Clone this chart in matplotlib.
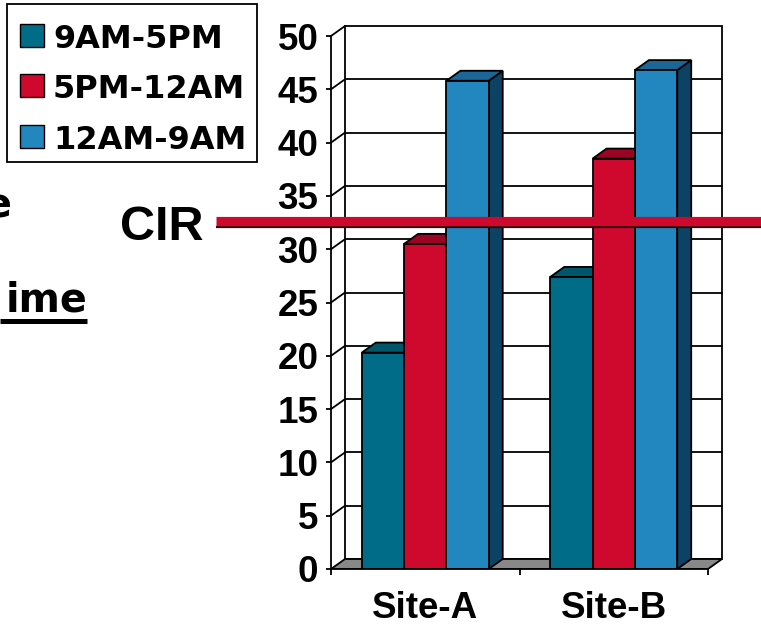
import matplotlib
matplotlib.use("Agg")
import matplotlib.pyplot as plt
from matplotlib.patches import Polygon, Rectangle
from matplotlib import transforms

# ---------------- data ----------------
categories = ["Site-A", "Site-B"]
series_names = ["9AM-5PM", "5PM-12AM", "12AM-9AM"]
vals_9am_5pm = [20.3, 27.4]
vals_5pm_12am = [30.5, 38.5]
vals_12am_9am = [45.8, 46.8]
series_values = [vals_9am_5pm, vals_5pm_12am, vals_12am_9am]
cir_value = 32.6
yticks = list(range(0, 51, 5))

# ---------------- styles ----------------
front_colors = ["#006C87", "#CF082D", "#2187BE"]
top_colors = ["#00566B", "#9C0425", "#1B6797"]
side_colors = ["#00465A", "#7E0320", "#0C4263"]
floor_color = "#888888"
bold_arial = dict(family="Liberation Sans", weight="bold")
bold_wide = dict(family="DejaVu Sans", weight="bold")

W, H = 761, 625
fig = plt.figure(figsize=(W / 100, H / 100), dpi=100)
fig.patch.set_facecolor("white")

# axes geometry (pixels)
px_x = 188.5   # pixels per category unit
px_y = 10.66   # pixels per value unit
xmax, ymax = 2.1, 51.5
ax = fig.add_axes([331 / W, (H - 569) / H, xmax * px_x / W, ymax * px_y / H])
ax.set_xlim(0, xmax)
ax.set_ylim(0, ymax)
ax.patch.set_alpha(0)

# depth offset (pixels -> data)
dxd = 14 / px_x
dyd = 10 / px_y
ncat = len(categories)
lw = 1.3

# back wall
ax.add_patch(Polygon([(dxd, dyd), (ncat + dxd, dyd), (ncat + dxd, 50 + dyd), (dxd, 50 + dyd)],
                     closed=True, facecolor="white", edgecolor="black", lw=lw, zorder=1))
for v in yticks[1:-1]:
    ax.plot([dxd, ncat + dxd], [v + dyd, v + dyd], color="black", lw=lw, zorder=1.5)
# left wall diagonals
for v in yticks[1:]:
    ax.plot([0, dxd], [v, v + dyd], color="black", lw=lw, zorder=1.5)
# floor
ax.add_patch(Polygon([(0, 0), (ncat, 0), (ncat + dxd, dyd), (dxd, dyd)], closed=True,
                     facecolor=floor_color, edgecolor="black", lw=lw, zorder=2))

# bars
bw = 0.2245
nser = len(series_names)
for ci in range(ncat):
    center = ci + 0.5
    for si in range(nser):
        v = series_values[si][ci]
        x0 = center + (si - nser / 2) * bw
        z = 3 + ci * 10 + si
        # side
        ax.add_patch(Polygon([(x0 + bw, 0), (x0 + bw + dxd, dyd), (x0 + bw + dxd, v + dyd), (x0 + bw, v)],
                             closed=True, facecolor=side_colors[si], edgecolor="black", lw=lw, zorder=z))
        # top
        ax.add_patch(Polygon([(x0, v), (x0 + bw, v), (x0 + bw + dxd, v + dyd), (x0 + dxd, v + dyd)],
                             closed=True, facecolor=top_colors[si], edgecolor="black", lw=lw, zorder=z))
        ax.bar([x0], [v], width=bw, align="edge", color=front_colors[si], edgecolor="black",
               lw=lw, zorder=z + 0.5)

# axes spines / ticks
for s in ["top", "right"]:
    ax.spines[s].set_visible(False)
ax.spines["left"].set_bounds(0, 50)
ax.spines["bottom"].set_bounds(0, ncat)
ax.spines["left"].set_linewidth(lw)
ax.spines["bottom"].set_linewidth(lw)
ax.spines["left"].set_zorder(50)
ax.spines["bottom"].set_zorder(50)
ax.set_yticks(yticks)
ax.set_yticklabels([str(t) for t in yticks], fontsize=26.5, **bold_arial)
ax.tick_params(axis="y", direction="out", length=3.6, width=lw, pad=5.5)
ax.set_xticks(range(ncat + 1))
ax.set_xticklabels([""] * (ncat + 1))
ax.tick_params(axis="x", which="major", direction="out", length=4.5, width=lw)
ax.set_xticks([c + 0.5 for c in range(ncat)], minor=True)
ax.set_xticklabels(categories, minor=True, fontsize=26.5, **bold_arial)
ax.tick_params(axis="x", which="minor", length=0, pad=15.5)

# overlay in pixel coordinates
ov = fig.add_axes([0, 0, 1, 1])
ov.set_xlim(0, W)
ov.set_ylim(H, 0)
ov.axis("off")
ov.patch.set_alpha(0)

# CIR line (x in pixels, y in data)
bt = transforms.blended_transform_factory(ov.transData, ax.transData)
shadow = transforms.offset_copy(bt, fig=fig, x=0, y=-5.5, units="dots")
ov.plot([216, W], [cir_value, cir_value], transform=shadow, color="#3A0010", lw=1.6,
        solid_capstyle="butt", zorder=20)
ov.plot([216, W], [cir_value, cir_value], transform=bt, color="#CF082D", lw=6.6,
        solid_capstyle="butt", zorder=21)
ov.text(203, 240, "CIR", ha="right", va="baseline", fontsize=35, zorder=22, **bold_arial)

# cropped slide text
ov.text(11, 217, "e", ha="right", va="baseline", fontsize=28.5, **bold_wide)
ov.text(87, 311.5, "ime", ha="right", va="baseline", fontsize=28.5, **bold_wide)
ov.plot([0, 87], [320.5, 320.5], color="black", lw=3.6, solid_capstyle="butt")

# legend
ov.add_patch(Rectangle((7, 4), 250, 158, facecolor="white", edgecolor="black", lw=lw, zorder=5))
row_base = [48, 97.5, 149]
for i, name in enumerate(series_names):
    ov.add_patch(Rectangle((19.5, row_base[i] - 24), 24, 23, facecolor=front_colors[i],
                           edgecolor="black", lw=1.0, zorder=6))
    ov.text(53, row_base[i], name, ha="left", va="baseline", fontsize=23, zorder=6, **bold_wide)

fig.savefig("out.png", dpi=100)
